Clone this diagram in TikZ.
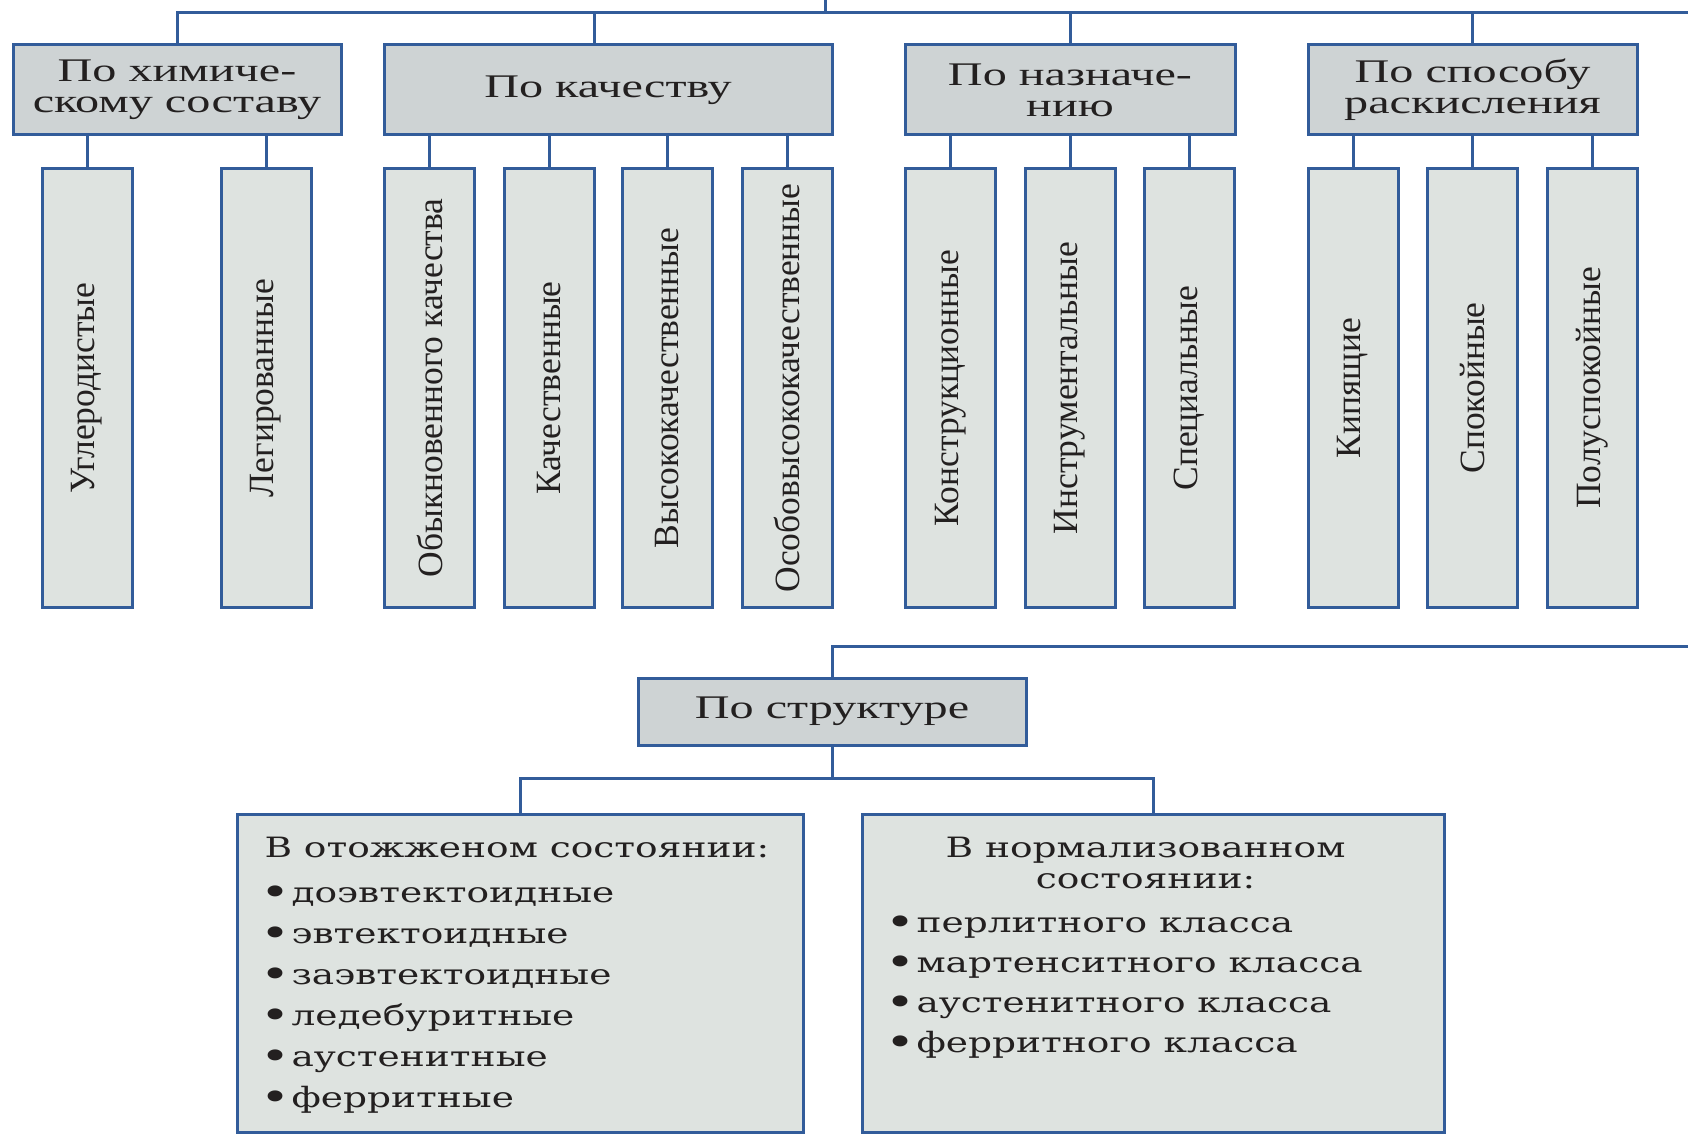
\documentclass[tikz,border=0pt]{standalone}
\usepackage{fontspec}
\setmainfont{Liberation Serif}
\newfontfamily\hdfont[FakeStretch=1.46]{Liberation Serif}
\newfontfamily\lowfont[FakeStretch=1.34]{DejaVu Serif}
\definecolor{edgeblue}{RGB}{50,92,154}
\definecolor{headfill}{RGB}{206,211,212}
\definecolor{leaffill}{RGB}{222,227,224}
\definecolor{inkgray}{RGB}{35,32,32}
\newcommand{\dotitem}{\hspace*{-4pt}\raisebox{-2.5pt}{\fontsize{38}{38}\selectfont•}\hspace{1pt}}

\begin{document}
\begin{tikzpicture}[x=1pt,y=-1pt,
  conn/.style={draw=edgeblue,line width=3pt},
  headbox/.style={draw=edgeblue,fill=headfill,line width=3pt,minimum height=90pt,inner sep=0pt,align=center,text=inkgray,font=\hdfont\fontsize{33}{31}\selectfont},
  leafbox/.style={draw=edgeblue,fill=leaffill,line width=3pt,minimum width=90pt,minimum height=439pt,inner sep=0pt,anchor=north,text=inkgray,font=\fontsize{35.5}{35.5}\selectfont},
  lowbox/.style={draw=edgeblue,fill=leaffill,line width=3pt,anchor=north west,inner xsep=27pt,inner ysep=0pt,text=inkgray,font=\lowfont\fontsize{28}{41}\selectfont}]
\useasboundingbox (0,0) rectangle (1688,1134);

% groups
\node[headbox,minimum width=328pt] (chem) at (177,90) {По химиче-\\скому составу};
\node[headbox,minimum width=448pt] (qual) at (608,90) {По качеству};
\node[headbox,minimum width=330pt] (use) at (1070,90) {По назначе-\\нию};
\node[headbox,minimum width=329pt] (deox) at (1472.5,90) {По способу\\раскисления};

% kinds of steel
\foreach \nm/\x/\txt in {carb/87/Углеродистые, alloy/266/Легированные,
    ordq/429.5/Обыкновенного качества, goodq/549/Качественные,
    highq/667.5/Высококачественные, topq/787/Особовысококачественные,
    constr/950.5/Конструкционные, tool/1070/Инструментальные, spec/1189.5/Специальные,
    boil/1353/Кипящие, calm/1472.5/Спокойные, semi/1592/Полуспокойные}
  \node[leafbox] (\nm) at (\x,167) {\rotatebox{90}{\txt}};

\coordinate (topin) at (825,0);
\coordinate (bus) at (825,13);
\coordinate (busend) at (1688,13);
\draw[conn] (topin) -- (bus);
\draw[conn] (chem.north) |- (busend);
\draw[conn] ([xshift=-14pt]qual.north) -- ([xshift=-14pt]qual.north |- bus);
\draw[conn] (use.north) -- (use.north |- bus);
\draw[conn] (deox.north) -- (deox.north |- bus);

\foreach \up/\dn in {chem/carb, chem/alloy, qual/ordq, qual/goodq, qual/highq, qual/topq,
    use/constr, use/tool, use/spec, deox/boil, deox/calm, deox/semi}
  \draw[conn] (\dn.north) -- (\dn.north |- \up.south);

% structure
\node[headbox,minimum width=388pt,minimum height=67pt] (struct) at (832,711.5) {По структуре};
\node[lowbox] (anneal) at (236,813) {\parbox[t][318pt][t]{512pt}{\vspace*{23pt}%
  В отожженом состоянии:\\[4pt]
  \dotitem доэвтектоидные\\
  \dotitem эвтектоидные\\
  \dotitem заэвтектоидные\\
  \dotitem ледебуритные\\
  \dotitem аустенитные\\
  \dotitem ферритные}};
\node[lowbox] (norm) at (861,813) {\parbox[t][318pt][t]{528pt}{\vspace*{23pt}%
  {\centering\fontsize{28}{31}\selectfont\hspace*{-16pt}В нормализованном\\\hspace*{-16pt}состоянии:\par}\vspace{4pt}
  \fontsize{28}{40}\selectfont
  \dotitem перлитного класса\\
  \dotitem мартенситного класса\\
  \dotitem аустенитного класса\\
  \dotitem ферритного класса}};

\coordinate (sideend) at (1688,646);
\coordinate (fork) at (832,778);
\draw[conn] (struct.north) |- (sideend);
\draw[conn] (struct.south) -- (fork);
\draw[conn] (anneal.north) |- (fork) -| (norm.north);
\end{tikzpicture}
\end{document}
